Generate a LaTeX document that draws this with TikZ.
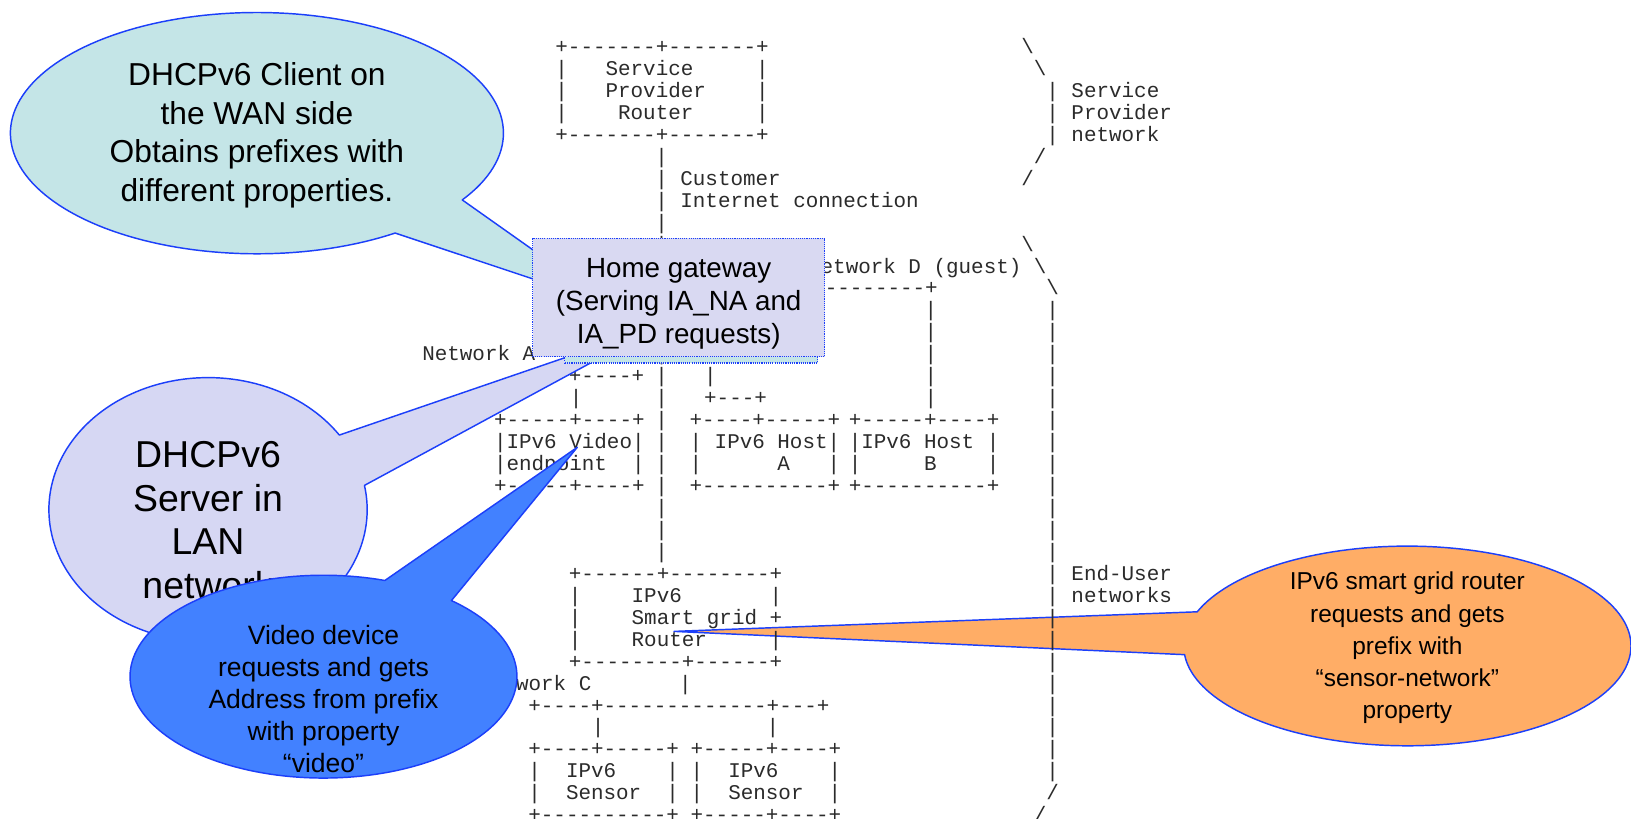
\documentclass[tikz,border=0pt]{standalone}
\usepackage{fontspec}
\setmainfont{Liberation Sans}
\setmonofont{Liberation Mono}
\definecolor{asciicol}{HTML}{2B2B2B}
\definecolor{strokeblue}{HTML}{1C3FFA}
\definecolor{cyanfill}{HTML}{C4E5E7}
\definecolor{lanfill}{HTML}{D6D7F3}
\definecolor{gwfill}{HTML}{D9D9F2}
\definecolor{videofill}{HTML}{4281FF}
\definecolor{orangefill}{HTML}{FFAD66}
\newcommand\asc[3]{\node[asciitxt] at ({#1-6.03},{45+21.1*(#2)+6.5}) {#3};}
\begin{document}
\begin{tikzpicture}[x=1pt,y=-1pt,
  asciitxt/.style={anchor=base west, inner sep=0pt, outer sep=0pt,
    font=\ttfamily\fontsize{20.1}{21.1}\selectfont, text=asciicol},
  callout/.style={draw=strokeblue, line width=1.4pt, line join=round},
  ctext/.style={align=center, text=black, inner sep=0pt}]
\fill[white] (0,0) rectangle (1568,787);
\useasboundingbox (0,0) rectangle (1568,787);

% orange callout (under the ascii art)
\draw[callout, fill=orangefill]
  ({1353+215*cos(175)},{621+96*sin(175)}) -- (648,607) coordinate (otip)
  -- ({1353+215*cos(200)},{621+96*sin(200)})
  -- plot[domain=200:535, samples=160] ({1353+215*cos(\x)},{621+96*sin(\x)}) -- cycle;

% ---------- ASCII art ----------
\asc{540}{0}{+-------+-------+}
\asc{988}{0}{\textbackslash}
\asc{540}{1}{|~~~Service~~~~~|}
\asc{1000}{1}{\textbackslash}
\asc{540}{2}{|~~~Provider~~~~|}
\asc{1012}{2}{|~Service}
\asc{540}{3}{|~~~~Router~~~~~|}
\asc{1012}{3}{|~Provider}
\asc{540}{4}{+-------+-------+}
\asc{1012}{4}{|~network}
\asc{1000}{5}{/}
\asc{636}{6}{|~Customer}
\asc{988}{6}{/}
\asc{636}{7}{|~Internet~connection}
\foreach \r in {5,8,9,14,15,16,17,18,19,20,21,22,23} {\asc{636}{\r}{|}}
\asc{988}{9}{\textbackslash}
\asc{795}{10}{etwork~D~(guest)~\textbackslash}
\asc{799}{11}{--------+}
\asc{1012}{11}{\textbackslash}
\foreach \r in {12,...,16} {\asc{895}{\r}{|}}
\foreach \r in {12,...,23,26,27,28,29,30,31,32,33} {\asc{1012}{\r}{|}}
\asc{1012}{24}{|~End-User}
\asc{1012}{25}{|~networks}
\asc{1012}{34}{/}
\asc{1000}{35}{/}
\asc{412}{14}{Network~A}
\asc{553}{15}{+----+}
\asc{683}{15}{|}
\asc{554}{16}{|}
\asc{683}{16}{+---+}
\asc{481}{17}{+-----+----+}
\asc{669}{17}{+----+-----+}
\asc{822}{17}{+-----+----+}
\asc{481}{18}{|IPv6~Video|}
\asc{669}{18}{|~IPv6~Host|}
\asc{822}{18}{|IPv6~Host~|}
\asc{481}{19}{|endpoint~~|}
\asc{669}{19}{|~~~~~~A~~~|}
\asc{822}{19}{|~~~~~B~~~~|}
\asc{481}{20}{+-----+----+}
\asc{669}{20}{+----------+}
\asc{822}{20}{+----------+}
\asc{553}{24}{+------+--------+}
\asc{553}{25}{|~~~~IPv6~~~~~~~|}
\asc{553}{26}{|~~~~Smart~grid~+}
\asc{553}{27}{|~~~~Router~~~~~|}
\asc{553}{28}{+--------+------+}
\asc{466}{29}{Network~C}
\asc{659}{29}{|}
\asc{514}{30}{+----+-------------+---+}
\asc{575}{31}{|}
\asc{743}{31}{|}
\asc{514}{32}{+----+-----+}
\asc{670}{32}{+-----+----+}
\asc{514}{33}{|~~IPv6~~~~|}
\asc{670}{33}{|~~IPv6~~~~|}
\asc{514}{34}{|~~Sensor~~|}
\asc{670}{34}{|~~Sensor~~|}
\asc{514}{35}{+----------+}
\asc{670}{35}{+-----+----+}

% ---------- cyan callout ----------
\draw[callout, fill=cyanfill]
  ({247+237*cos(33.6)},{128+116*sin(33.6)}) -- (587,293) coordinate (ctip)
  -- ({247+237*cos(55.9)},{128+116*sin(55.9)})
  -- plot[domain=55.9:393.6, samples=160] ({247+237*cos(\x)},{128+116*sin(\x)}) -- cycle;
\node[ctext, font=\fontsize{30.5}{37}\selectfont] (wantext) at (247,130)
  {DHCPv6 Client on\\the WAN side\\Obtains prefixes with\\different properties.};

% ---------- LAN callout ----------
\draw[callout, fill=lanfill]
  ({200+153*cos(-34.4)},{490+127*sin(-34.4)}) -- (636,312) coordinate (ltip)
  -- ({200+153*cos(-10.6)},{490+127*sin(-10.6)})
  -- plot[domain=-10.6:325.6, samples=160] ({200+153*cos(\x)},{490+127*sin(\x)}) -- cycle;
\node[ctext, font=\fontsize{36}{42}\selectfont] (lantext) at (200,500)
  {DHCPv6\\Server in\\LAN\\network};

% ---------- home gateway box ----------
\node[draw=strokeblue, densely dotted, line width=1.1pt, fill=cyanfill,
  minimum width=243pt, minimum height=109pt, inner sep=0pt] (gwshadow) at (664.5,294.5) {};
\node[draw=strokeblue, densely dotted, line width=1.1pt, fill=gwfill,
  minimum width=281pt, minimum height=114pt, inner sep=0pt] (gw) at (652.5,286) {};
\node[ctext, font=\fontsize{26.7}{31.5}\selectfont] (gwtext) at (652.5,292)
  {Home gateway\\(Serving IA\_NA and\\IA\_PD requests)};

% ---------- video callout ----------
\draw[callout, fill=videofill]
  ({311+186*cos(-71.5)},{650.5+97.5*sin(-71.5)}) -- (555,430) coordinate (vtip)
  -- ({311+186*cos(-48.6)},{650.5+97.5*sin(-48.6)})
  -- plot[domain=-48.6:288.5, samples=160] ({311+186*cos(\x)},{650.5+97.5*sin(\x)}) -- cycle;
\node[ctext, font=\fontsize{25.5}{31}\selectfont] (videotext) at (311,672)
  {Video device\\requests and gets\\Address from prefix\\with property\\“video”};

% ---------- orange callout text ----------
\node[ctext, font=\fontsize{23.5}{31}\selectfont] (sgtext) at (1353,623)
  {IPv6 smart grid router\\requests and gets\\prefix with\\“sensor-network”\\property};
\end{tikzpicture}
\end{document}
